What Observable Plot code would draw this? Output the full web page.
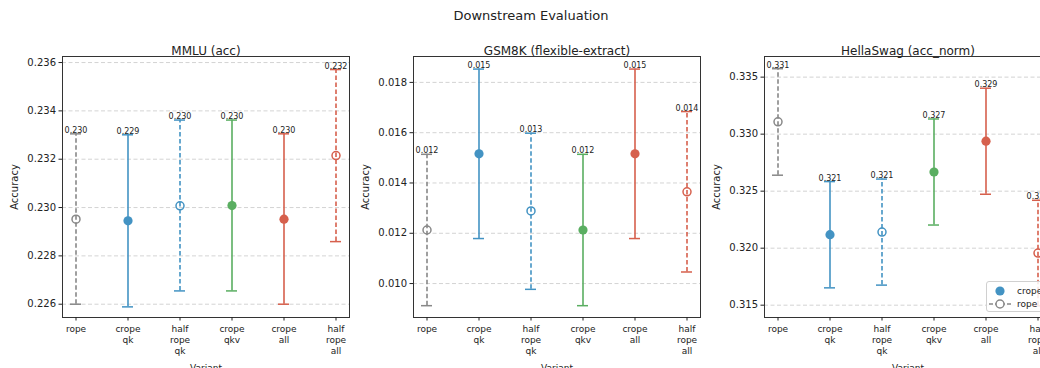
<!DOCTYPE html>
<html>
<head>
<meta charset="utf-8">
<script src="https://cdn.jsdelivr.net/npm/d3@7"></script>
<script src="https://cdn.jsdelivr.net/npm/@observablehq/plot@0.6"></script>
<style>
  html, body { margin: 0; padding: 0; background: #fff; }
  #wrap { position: relative; width: 1040px; height: 368px; overflow: hidden; font-family: "DejaVu Sans", sans-serif; }
  #title { position: absolute; left: 0; top: 8px; width: 1062px; text-align: center; font-size: 13px; color: #222; }
  #row { position: absolute; left: 0; top: 30px; display: flex; width: 1060px; }
  #legend { position: absolute; left: 986px; top: 281px; width: 130px; height: 31px; box-sizing: border-box;
            border: 1px solid #d0d0d0; border-radius: 3px; background: rgba(255,255,255,0.85); font-size: 9px; color: #222; }
  #legend .item { position: absolute; left: 0; height: 14px; display: flex; align-items: center; white-space: nowrap; }
  #legend svg { display: block; }
</style>
</head>
<body>
<div id="wrap">
  <div id="title">Downstream Evaluation</div>
  <div id="row"></div>
  <div id="legend">
    <div class="item" style="top:2px"><svg width="30" height="14"><circle cx="13" cy="7" r="4.6" fill="#4393c3"></circle></svg><span id="leg1"></span></div>
    <div class="item" style="top:15px"><svg width="30" height="14"><line x1="2" x2="24" y1="7" y2="7" stroke="#888" stroke-width="1.5" stroke-dasharray="4,2"></line><circle cx="13" cy="7" r="4" fill="#fff" stroke="#888" stroke-width="1.5"></circle></svg><span id="leg2"></span></div>
  </div>
</div>
<script>
// ---- data ----
const variants = ["rope", "crope_qk", "half_rope_qk", "crope_qkv", "crope_all", "half_rope_all"];
const variantLabels = ["rope", "crope\nqk", "half\nrope\nqk", "crope\nqkv", "crope\nall", "half\nrope\nall"];
const variantColors = ["#888888", "#4393c3", "#4393c3", "#5aae61", "#d6604d", "#d6604d"];
const variantFilled = [false, true, false, true, true, false];
const legendLabels = ["crope variants", "rope baselines"];

const benchmarks = ["MMLU (acc)", "GSM8K (flexible-extract)", "HellaSwag (acc_norm)"];

const mmluMean = [0.22952, 0.22945, 0.23007, 0.23008, 0.22952, 0.23215];
const mmluLo   = [0.22600, 0.22589, 0.22655, 0.22655, 0.22600, 0.22859];
const mmluHi   = [0.23305, 0.23301, 0.23362, 0.23362, 0.23305, 0.23571];

const gsmMean = [0.01213, 0.01516, 0.01289, 0.01213, 0.01516, 0.01365];
const gsmLo   = [0.00912, 0.01179, 0.00977, 0.00912, 0.01179, 0.01046];
const gsmHi   = [0.01514, 0.01853, 0.01598, 0.01514, 0.01853, 0.01684];

const hsMean = [0.33108, 0.32118, 0.32141, 0.32668, 0.32938, 0.31957];
const hsLo   = [0.32640, 0.31652, 0.31676, 0.32203, 0.32473, 0.31494];
const hsHi   = [0.33574, 0.32584, 0.32606, 0.33133, 0.33403, 0.32420];

const mmluTicks = [0.226, 0.228, 0.230, 0.232, 0.234, 0.236];
const gsmTicks  = [0.010, 0.012, 0.014, 0.016, 0.018];
const hsTicks   = [0.315, 0.320, 0.325, 0.330, 0.335];

const mmluDomain = [0.22545, 0.23625];
const gsmDomain  = [0.00865, 0.01903];
const hsDomain   = [0.31392, 0.33681];

// ---- build ----
document.getElementById("leg1").textContent = legendLabels[0];
document.getElementById("leg2").textContent = legendLabels[1];

const fmt = d3.format(".3f");
const labelOf = Object.fromEntries(variants.map((v, i) => [v, variantLabels[i]]));

function rows(mean, lo, hi) {
  return variants.map((v, i) => ({
    variant: v, mean: mean[i], lo: lo[i], hi: hi[i],
    color: variantColors[i], filled: variantFilled[i]
  }));
}

const panels = [
  {title: benchmarks[0], data: rows(mmluMean, mmluLo, mmluHi), ticks: mmluTicks, domain: mmluDomain},
  {title: benchmarks[1], data: rows(gsmMean, gsmLo, gsmHi), ticks: gsmTicks, domain: gsmDomain},
  {title: benchmarks[2], data: rows(hsMean, hsLo, hsHi), ticks: hsTicks, domain: hsDomain}
];

const row = document.getElementById("row");
for (const p of panels) {
  const solid = p.data.filter(d => d.filled);
  const dashed = p.data.filter(d => !d.filled);
  const chart = Plot.plot({
    width: 351,
    height: 338,
    marginTop: 26,
    marginBottom: 51,
    marginLeft: 62,
    marginRight: 2,
    style: {fontFamily: "DejaVu Sans", fontSize: "10px", color: "#222", background: "transparent", overflow: "visible"},
    x: {type: "band", domain: variants, paddingInner: 0.789, paddingOuter: 0.149},
    y: {domain: p.domain},
    marks: [
      Plot.gridY(p.ticks, {stroke: "#c8c8c8", strokeOpacity: 1, strokeWidth: 0.8, strokeDasharray: "4,2.5"}),
      Plot.ruleX(solid, {x: "variant", y1: "lo", y2: "hi", stroke: "color", strokeWidth: 1.6}),
      Plot.ruleX(dashed, {x: "variant", y1: "lo", y2: "hi", stroke: "color", strokeWidth: 1.6, strokeDasharray: "4.5,2.5"}),
      Plot.tickY(p.data, {x: "variant", y: "lo", stroke: "color", strokeWidth: 1.5}),
      Plot.tickY(p.data, {x: "variant", y: "hi", stroke: "color", strokeWidth: 1.5}),
      Plot.dot(solid, {x: "variant", y: "mean", r: 4.6, fill: "color", stroke: "none"}),
      Plot.dot(dashed, {x: "variant", y: "mean", r: 4, fill: "none", stroke: "color", strokeWidth: 1.5}),
      Plot.text(p.data, {x: "variant", y: "hi", text: d => fmt(d.mean), dy: -1, lineAnchor: "bottom", fontSize: 8, fill: "#222"}),
      Plot.frame({stroke: "#333", strokeWidth: 1}),
      Plot.axisY({ticks: p.ticks, tickFormat: fmt, tickSize: 3.5, tickPadding: 3, fontSize: 10,
                  label: "Accuracy", labelAnchor: "center", labelOffset: 52, labelArrow: "none"}),
      Plot.axisX({tickFormat: v => labelOf[v], tickSize: 3.5, tickPadding: 3, fontSize: 9, lineHeight: 1.25,
                  label: "Variant", labelAnchor: "center", labelOffset: 53, labelArrow: "none"}),
      Plot.text([p.title], {frameAnchor: "top", dy: -10, fontSize: 12, fill: "#222"})
    ]
  });
  chart.style.flex = "0 0 auto";
  row.appendChild(chart);
}
</script>
</body>
</html>
